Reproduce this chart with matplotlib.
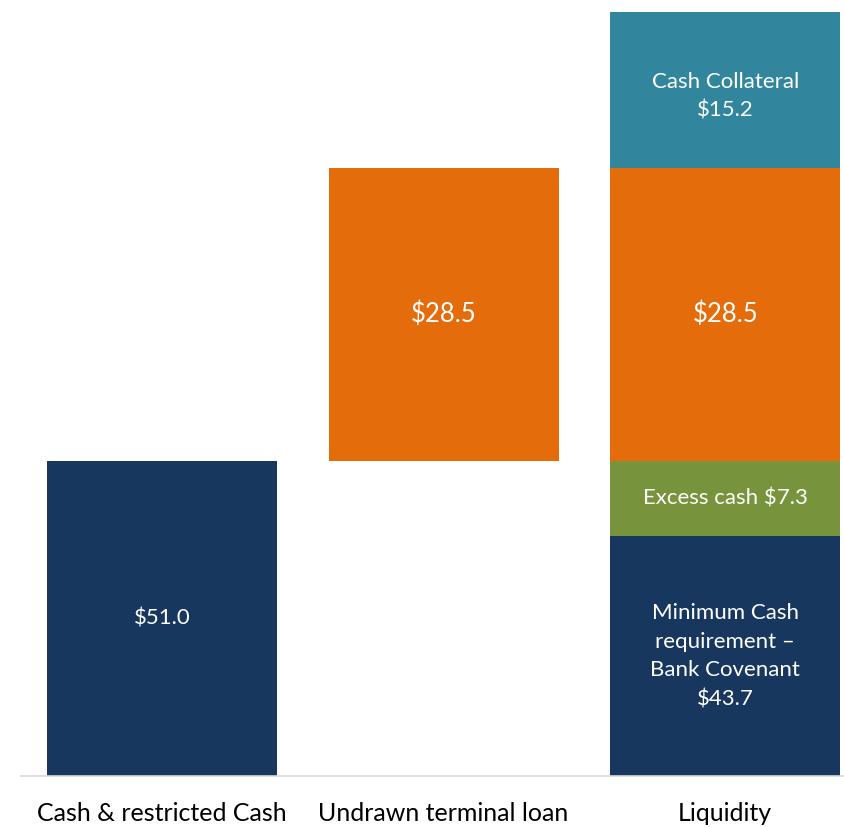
import matplotlib
matplotlib.use('Agg')
import matplotlib.pyplot as plt

# categories on the x axis
categorias = ['Cash & restricted Cash', 'Undrawn terminal loan', 'Liquidity']

# drawn heights (the chart is not to scale with its labels)
efectivo = 30.7
prestamo = 28.5
covenant = 23.4
exceso = 7.3
colateral = 15.2

# label texts shown inside the bars
txt_efectivo = '$51.0'
txt_prestamo = '$28.5'
txt_covenant = 'Minimum Cash\nrequirement –\nBank Covenant\n$43.7'
txt_exceso = 'Excess cash $7.3'
txt_colateral = 'Cash Collateral\n$15.2'

azul = '#17375E'
naranja = '#E46C0A'
verde = '#77933C'
teal = '#31859C'

plt.rcParams['font.family'] = ['Lato', 'DejaVu Sans']

fig = plt.figure(figsize=(8.45, 8.27), dpi=100)
ax = fig.add_axes([21 / 845, 51 / 827, 824 / 845, 776 / 827])

w = 0.816
x = [0, 1, 2]
fs = 16

# bar 1
ax.bar(x[0], efectivo, w, color=azul)
ax.text(x[0], efectivo / 2, txt_efectivo, ha='center', va='center', color='white', fontsize=fs)

# bar 2, floating
ax.bar(x[1], prestamo, w, bottom=efectivo, color=naranja)
ax.text(x[1], efectivo + prestamo / 2, txt_prestamo, ha='center', va='center', color='white', fontsize=18.5)

# bar 3, stacked
base = 0
ax.bar(x[2], covenant, w, bottom=base, color=azul)
ax.text(x[2], base + covenant / 2, txt_covenant, ha='center', va='center', color='white',
        fontsize=fs, linespacing=1.55)
base += covenant
ax.bar(x[2], exceso, w, bottom=base, color=verde)
ax.text(x[2], base + exceso / 2, txt_exceso, ha='center', va='center', color='white', fontsize=fs)
base += exceso
ax.bar(x[2], prestamo, w, bottom=base, color=naranja)
ax.text(x[2], base + prestamo / 2, txt_prestamo, ha='center', va='center', color='white', fontsize=18.5)
base += prestamo
ax.bar(x[2], colateral, w, bottom=base, color=teal)
ax.text(x[2], base + colateral / 2 - 0.6, txt_colateral, ha='center', va='center', color='white',
        fontsize=fs, linespacing=1.55)

ax.set_xlim(-0.5, 2.425)
ax.set_ylim(0, 75.6)
ax.set_xticks(x)
ax.set_xticklabels(categorias, fontsize=18)
ax.tick_params(axis='x', length=0, pad=19)
ax.set_yticks([])
for s in ['top', 'right', 'left']:
    ax.spines[s].set_visible(False)
ax.spines['bottom'].set_color('#D9D9D9')
ax.spines['bottom'].set_linewidth(1.2)

fig.savefig('out.png', dpi=100)
